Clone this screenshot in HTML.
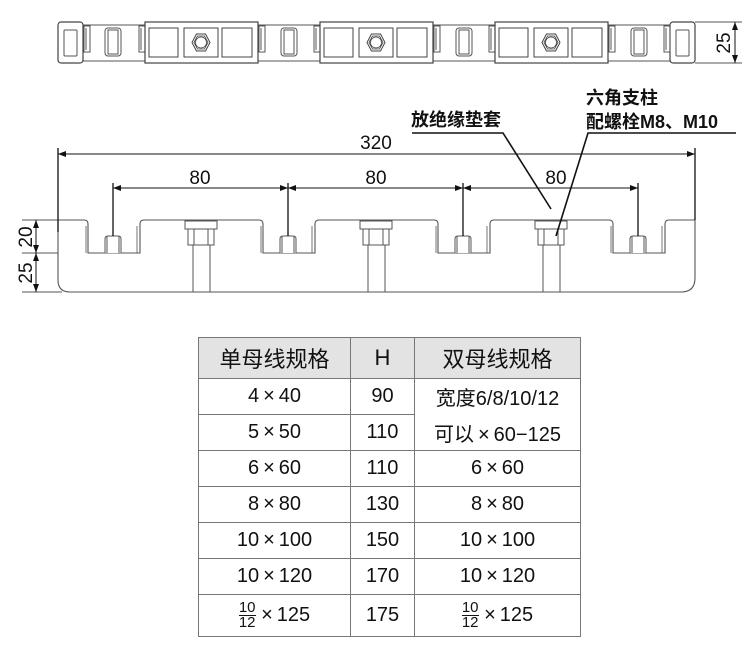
<!DOCTYPE html>
<html><head><meta charset="utf-8"><style>
html,body{margin:0;padding:0;background:#fff;}
body{width:750px;height:650px;position:relative;overflow:hidden;font-family:"Liberation Sans","Noto Sans CJK SC",sans-serif;}
svg{position:absolute;left:0;top:0;}
table{position:absolute;left:198px;top:337px;border-collapse:collapse;font-family:"Liberation Sans","Noto Sans CJK SC",sans-serif;color:#111;}
td{border:1.3px solid #777;text-align:center;padding:0;font-size:20px;}
tr.h td{background:#e3e3e3;height:40px;font-size:22px;}
.fr{display:inline-block;vertical-align:middle;font-size:15px;line-height:14px;text-align:center;}
.fr span{display:block;}
.fr span:first-child{border-bottom:1.5px solid #111;}
</style></head><body>
<svg width="750" height="650" viewBox="0 0 750 650">
<defs>
<g id="slotTop" fill="none" stroke="#555" stroke-width="1">
  <path d="M0,26 h6 v26 h-6 z"/><path d="M2,28 v22"/>
</g>
<g id="smallRect" fill="none" stroke="#555" stroke-width="1">
  <rect x="0" y="28" width="16" height="28" rx="3"/><rect x="3" y="30" width="10" height="24"/>
</g>
<g id="block" fill="none" stroke="#444" stroke-width="1.2">
  <rect x="0" y="22" width="113" height="41" fill="#fff"/>
  <rect x="4" y="28" width="29" height="29" stroke-width="1"/>
  <rect x="39" y="28" width="34" height="29" stroke-width="1"/>
  <polygon points="47,42.5 51.5,34 60.5,34 65,42.5 60.5,51 51.5,51" stroke-width="1"/>
  <polygon points="49,42.5 52.5,36 59.5,36 63,42.5 59.5,49 52.5,49" stroke-width="0.8"/>
  <circle cx="56" cy="42.5" r="5.5" stroke-width="0.8"/>
  <rect x="77" y="28" width="30" height="29" stroke-width="1"/>
</g>
<g id="pillar" fill="#fff" stroke="#555" stroke-width="1">
  <rect x="-16" y="221" width="32" height="8"/>
  <rect x="-13" y="229" width="26" height="16"/>
  <path d="M-7,229 v16 M7,229 v16" fill="none"/>
  <path d="M-8,245 v47 M9,245 v47" fill="none"/>
</g>
<g id="ins" fill="#fff" stroke="#555" stroke-width="1">
  <path d="M-8,253 v-14 q0,-3 3,-3 h10 q3,0 3,3 v14"/>
  <path d="M-6,253 v-17 M6,253 v-17" fill="none"/>
</g>
<marker id="ar" markerWidth="8" markerHeight="6" refX="8" refY="3" orient="auto-start-reverse" markerUnits="userSpaceOnUse"><path d="M0,0 L8,3 L0,6 z" fill="#111"/></marker>
</defs>

<g fill="none" stroke="#555" stroke-width="1">
  <path d="M83,25 H670 M83,61 H670"/>
</g>
<rect x="58" y="22" width="25" height="41" rx="3" fill="#fff" stroke="#444" stroke-width="1.2"/>
<rect x="64" y="30" width="13" height="26" rx="1" fill="none" stroke="#555"/>
<rect x="670" y="22" width="25" height="41" rx="3" fill="#fff" stroke="#444" stroke-width="1.2"/>
<rect x="676" y="30" width="13" height="26" rx="1" fill="none" stroke="#555"/>
<use href="#slotTop" x="84"/><use href="#smallRect" x="105"/><use href="#slotTop" x="139"/>
<use href="#block" x="145"/>
<use href="#slotTop" x="259"/><use href="#smallRect" x="281"/><use href="#slotTop" x="314"/>
<use href="#block" x="320"/>
<use href="#slotTop" x="434"/><use href="#smallRect" x="456"/><use href="#slotTop" x="489"/>
<use href="#block" x="495"/>
<use href="#slotTop" x="609"/><use href="#smallRect" x="631"/><use href="#slotTop" x="664"/>
<path d="M695,22 H742 M695,63 H742" stroke="#555" stroke-width="1"/>
<line x1="735" y1="22" x2="735" y2="63" stroke="#111" stroke-width="1" marker-start="url(#ar)" marker-end="url(#ar)"/>
<text transform="translate(730,43) rotate(-90)" font-size="19" text-anchor="middle" fill="#111" font-family="Liberation Sans">25</text>

<path d="M58,220 H84 q4,0 4,4 V253 H140 V224 q0,-4 4,-4 H259 q4,0 4,4 V253 H315 V224 q0,-4 4,-4 H434 q4,0 4,4 V253 H490 V224 q0,-4 4,-4 H609 q4,0 4,4 V253 H665 V224 q0,-4 4,-4 H695 V278 q0,14 -14,14 H70 q-12,0 -12,-12 Z" fill="#fff" stroke="#555" stroke-width="1.1"/>
<path d="M86,226 V253 M137,226 V253 M261,226 V253 M312,226 V253 M436,226 V253 M487,226 V253 M611,226 V253 M662,226 V253" stroke="#666" stroke-width="0.9"/>
<use href="#ins" x="113"/><use href="#ins" x="288"/><use href="#ins" x="463"/><use href="#ins" x="638"/>
<use href="#pillar" x="201"/><use href="#pillar" x="376"/><use href="#pillar" x="551"/>

<path d="M22,220 H58 M22,253 H58 M22,292 H62" stroke="#555" stroke-width="1"/>
<line x1="36" y1="220" x2="36" y2="253" stroke="#111" marker-start="url(#ar)" marker-end="url(#ar)"/>
<line x1="36" y1="253" x2="36" y2="292" stroke="#111" marker-start="url(#ar)" marker-end="url(#ar)"/>
<text transform="translate(32,237) rotate(-90)" font-size="19" text-anchor="middle" fill="#111" font-family="Liberation Sans">20</text>
<text transform="translate(32,273) rotate(-90)" font-size="19" text-anchor="middle" fill="#111" font-family="Liberation Sans">25</text>

<path d="M58,148 V232 M695,148 V220" stroke="#111" stroke-width="1.3"/>
<line x1="58" y1="154" x2="695" y2="154" stroke="#111" marker-start="url(#ar)" marker-end="url(#ar)"/>
<text x="376" y="149" font-size="19" text-anchor="middle" fill="#111" font-family="Liberation Sans">320</text>

<path d="M113,183 V236 M288,183 V236 M463,183 V236 M638,183 V236" stroke="#111" stroke-width="1.3"/>
<line x1="113" y1="188" x2="288" y2="188" stroke="#111" marker-start="url(#ar)" marker-end="url(#ar)"/>
<line x1="288" y1="188" x2="463" y2="188" stroke="#111" marker-start="url(#ar)" marker-end="url(#ar)"/>
<line x1="463" y1="188" x2="638" y2="188" stroke="#111" marker-start="url(#ar)" marker-end="url(#ar)"/>
<text x="200" y="184" font-size="19" text-anchor="middle" fill="#111" font-family="Liberation Sans">80</text>
<text x="376" y="184" font-size="19" text-anchor="middle" fill="#111" font-family="Liberation Sans">80</text>
<text x="556" y="184" font-size="19" text-anchor="middle" fill="#111" font-family="Liberation Sans">80</text>

<text x="411" y="126" font-size="18" font-weight="bold" fill="#111" font-family="Liberation Sans,Noto Sans CJK SC,sans-serif">放绝缘垫套</text>
<path d="M412,133 H503 L551,209" fill="none" stroke="#111" stroke-width="1.6"/>
<text x="586" y="104" font-size="18" font-weight="bold" fill="#111" font-family="Liberation Sans,Noto Sans CJK SC,sans-serif">六角支柱</text>
<text x="586" y="128" font-size="18" font-weight="bold" fill="#111" font-family="Liberation Sans,Noto Sans CJK SC,sans-serif">配螺栓M8、M10</text>
<path d="M736,133 H588 L556,236" fill="none" stroke="#111" stroke-width="1.6"/>
</svg>

<table>
<tr class="h"><td style="width:151px">单母线规格</td><td style="width:63px">H</td><td style="width:165px">双母线规格</td></tr>
<tr style="height:36px"><td>4&#8201;×&#8201;40</td><td>90</td><td style="border-bottom:none">宽度6/8/10/12</td></tr>
<tr style="height:36px"><td>5&#8201;×&#8201;50</td><td>110</td><td style="border-top:none">可以&#8201;×&#8201;60−125</td></tr>
<tr style="height:36px"><td>6&#8201;×&#8201;60</td><td>110</td><td>6&#8201;×&#8201;60</td></tr>
<tr style="height:36px"><td>8&#8201;×&#8201;80</td><td>130</td><td>8&#8201;×&#8201;80</td></tr>
<tr style="height:36px"><td>10&#8201;×&#8201;100</td><td>150</td><td>10&#8201;×&#8201;100</td></tr>
<tr style="height:36px"><td>10&#8201;×&#8201;120</td><td>170</td><td>10&#8201;×&#8201;120</td></tr>
<tr style="height:42px"><td><span class="fr"><span>10</span><span>12</span></span> ×&#8201;125</td><td>175</td><td><span class="fr"><span>10</span><span>12</span></span> ×&#8201;125</td></tr>
</table>
</body></html>
